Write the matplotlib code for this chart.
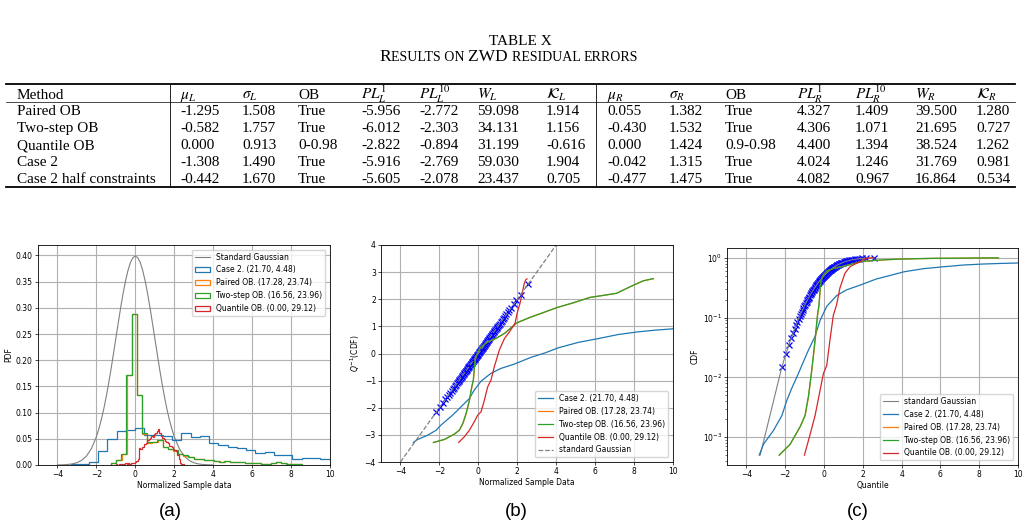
import matplotlib
matplotlib.use("Agg")
import matplotlib.pyplot as plt
import numpy as np
from matplotlib.lines import Line2D
from matplotlib.offsetbox import TextArea, HPacker, AnnotationBbox

W, H = 1030, 529

# ---------------- table data ----------------
methods = ["Paired OB", "Two-step OB", "Quantile OB", "Case 2", "Case 2 half constraints"]
header = ["Method", r"$\mu_L$", r"$\sigma_L$", "OB", r"$PL_L^1$", r"$PL_L^{10}$", r"$W_L$",
          r"$\mathcal{K}_L$", r"$\mu_R$", r"$\sigma_R$", "OB", r"$PL_R^1$", r"$PL_R^{10}$",
          r"$W_R$", r"$\mathcal{K}_R$"]
left_vals = [
    ["-1.295", "1.508", "True", "-5.956", "-2.772", "59.098", "1.914"],
    ["-0.582", "1.757", "True", "-6.012", "-2.303", "34.131", "1.156"],
    ["0.000", "0.913", "0-0.98", "-2.822", "-0.894", "31.199", "-0.616"],
    ["-1.308", "1.490", "True", "-5.916", "-2.769", "59.030", "1.904"],
    ["-0.442", "1.670", "True", "-5.605", "-2.078", "23.437", "0.705"],
]
right_vals = [
    ["0.055", "1.382", "True", "4.327", "1.409", "39.500", "1.280"],
    ["-0.430", "1.532", "True", "4.306", "1.071", "21.695", "0.727"],
    ["0.000", "1.424", "0.9-0.98", "4.400", "1.394", "38.524", "1.262"],
    ["-0.042", "1.315", "True", "4.024", "1.246", "31.769", "0.981"],
    ["-0.477", "1.475", "True", "4.082", "0.967", "16.864", "0.534"],
]

# ---------------- (a) histogram data ----------------
gauss_x = [-4.0, -3.75, -3.5, -3.25, -3.0, -2.75, -2.5, -2.25,
           -2.0, -1.875, -1.75, -1.625, -1.5, -1.375, -1.25, -1.125, -1.0, -0.875, -0.75,
           -0.625, -0.5, -0.375, -0.25, -0.125, 0.0, 0.125, 0.25, 0.375, 0.5, 0.625, 0.75,
           0.875, 1.0, 1.125, 1.25, 1.375, 1.5, 1.625, 1.75, 1.875, 2.0,
           2.25, 2.5, 2.75, 3.0, 3.25, 3.5, 3.75, 4.0]
gauss_pdf = [0.0001, 0.0004, 0.0009, 0.0020, 0.0044, 0.0091, 0.0175, 0.0317,
             0.0540, 0.0689, 0.0863, 0.1064, 0.1295, 0.1551, 0.1826, 0.2121, 0.2420, 0.2719,
             0.3011, 0.3282, 0.3521, 0.3719, 0.3867, 0.3958, 0.3989, 0.3958, 0.3867, 0.3719,
             0.3521, 0.3282, 0.3011, 0.2719, 0.2420, 0.2121, 0.1826, 0.1551, 0.1295, 0.1064,
             0.0863, 0.0689, 0.0540,
             0.0317, 0.0175, 0.0091, 0.0044, 0.0020, 0.0009, 0.0004, 0.0001]

case2_lo, case2_w = -3.33, 0.475
case2_hist = [0.001, 0.002, 0.006, 0.026, 0.049, 0.064, 0.066, 0.070, 0.057, 0.057, 0.055,
              0.048, 0.061, 0.053, 0.055, 0.042, 0.039, 0.035, 0.033, 0.029, 0.022, 0.025,
              0.020, 0.020, 0.011, 0.013, 0.013, 0.011, 0.012]

paired_lo, paired_w = -1.24, 0.265
paired_hist = [0.003, 0.010, 0.021, 0.172, 0.288, 0.134, 0.060, 0.042, 0.043, 0.048, 0.035,
               0.031, 0.027, 0.021, 0.018, 0.015, 0.012, 0.011, 0.009, 0.009, 0.007, 0.006,
               0.007, 0.006, 0.005, 0.005, 0.004, 0.003, 0.003, 0.002, 0.002, 0.003, 0.005,
               0.003, 0.002, 0.002, 0.001]

twostep_lo, twostep_w = -1.25, 0.265
twostep_hist = [0.003, 0.010, 0.021, 0.172, 0.288, 0.134, 0.061, 0.043, 0.043, 0.048, 0.035,
                0.031, 0.028, 0.021, 0.019, 0.015, 0.012, 0.011, 0.009, 0.009, 0.007, 0.006,
                0.007, 0.006, 0.005, 0.005, 0.004, 0.003, 0.003, 0.002, 0.002, 0.003, 0.005,
                0.003, 0.002, 0.002, 0.001]

quant_lo, quant_w = -1.0, 0.07
quant_hist = [0.001, 0.0, 0.002, 0.001, 0.002, 0.001, 0.002, 0.003, 0.002, 0.003, 0.002,
              0.004, 0.003, 0.004, 0.006, 0.008, 0.012, 0.032, 0.031, 0.035, 0.034, 0.040,
              0.042, 0.048, 0.050, 0.052, 0.055, 0.054, 0.060, 0.062, 0.065, 0.068, 0.062,
              0.055, 0.052, 0.050, 0.046, 0.044, 0.042, 0.037, 0.036, 0.035, 0.030, 0.028,
              0.026, 0.020, 0.012, 0.004, 0.002, 0.001]

# ---------------- (b)/(c) curves ----------------
case2_x = [-3.34, -3.12, -2.60, -2.17, -1.92, -1.66, -1.32, -1.06, -0.80, -0.46, -0.21, 0.14,
           0.65, 1.16, 1.85, 2.71, 3.42, 4.11, 5.14, 6.16, 7.19, 8.22, 9.08, 10.0, 11.0]
case2_q = [-3.28, -3.17, -3.01, -2.83, -2.64, -2.48, -2.27, -2.09, -1.90, -1.66, -1.35, -1.02,
           -0.73, -0.55, -0.39, -0.14, 0.02, 0.21, 0.41, 0.55, 0.70, 0.80, 0.86, 0.91, 0.95]
case2_cdf = [0.0005, 0.00076, 0.0013, 0.0023, 0.0041, 0.0066, 0.0116, 0.0183, 0.0287, 0.0485,
             0.0885, 0.154, 0.233, 0.291, 0.348, 0.444, 0.508, 0.583, 0.659, 0.709, 0.758,
             0.788, 0.805, 0.819, 0.829]

twostep_x = [-2.31, -1.75, -1.23, -0.98, -0.80, -0.63, -0.46, -0.34, -0.26, -0.17, -0.03, 0.14,
             0.48, 0.91, 1.34, 1.97, 2.65, 3.30, 4.02, 4.88, 5.74, 6.40, 7.10, 7.79, 8.47, 8.99]
twostep_q = [-3.28, -3.17, -2.97, -2.83, -2.58, -2.21, -1.72, -1.23, -0.98, -0.24, 0.06, 0.25,
             0.43, 0.56, 0.74, 1.13, 1.33, 1.50, 1.69, 1.87, 2.07, 2.14, 2.22, 2.46, 2.68, 2.76]
twostep_cdf = [0.0005, 0.00076, 0.0015, 0.0023, 0.0049, 0.0136, 0.0427, 0.109, 0.164, 0.405,
               0.524, 0.599, 0.666, 0.712, 0.770, 0.871, 0.908, 0.933, 0.954, 0.969, 0.981,
               0.984, 0.987, 0.993, 0.996, 0.997]

paired_x = [-2.30, -1.74, -1.22, -0.97, -0.79, -0.62, -0.45, -0.33, -0.25, -0.16, -0.02, 0.15,
            0.49, 0.92, 1.35, 1.98, 2.66, 3.31, 4.03, 4.89, 5.75, 6.41, 7.11, 7.80, 8.48, 9.00]
paired_q = twostep_q[:]
paired_cdf = twostep_cdf[:]

quant_x = [-1.01, -0.72, -0.46, -0.21, -0.03, 0.14, 0.31, 0.48, 0.65, 0.82, 1.08, 1.34, 1.60,
           1.88, 2.00, 2.14, 2.25, 2.36, 2.44, 2.50]
quant_q = [-3.28, -3.07, -2.83, -2.52, -2.27, -2.15, -1.72, -1.23, -0.98, -0.49, 0.13, 0.55,
           0.80, 1.10, 1.50, 1.85, 2.20, 2.59, 2.72, 2.75]
quant_cdf = [0.0005, 0.0011, 0.0023, 0.0059, 0.0116, 0.0158, 0.0427, 0.109, 0.164, 0.312,
             0.552, 0.709, 0.788, 0.864, 0.933, 0.968, 0.986, 0.995, 0.9967, 0.997]

# standard gaussian reference
gauss_line = [-4.0, 4.0]
gauss_tail_x, gauss_tail_p = -3.29, 0.0005

# gaussian sample markers (quantile, cdf)
marker_q = [-2.170, -1.960, -1.812, -1.695, -1.598, -1.514, -1.440, -1.372, -1.311, -1.254,
            -1.200, -1.150, -1.103, -1.058, -1.015, -0.974, -0.935, -0.896, -0.860, -0.824,
            -0.789, -0.755, -0.722, -0.690, -0.659, -0.628, -0.598, -0.568, -0.539, -0.510,
            -0.482, -0.454, -0.426, -0.399, -0.372, -0.345, -0.319, -0.292, -0.266, -0.240,
            -0.215, -0.189, -0.164, -0.138, -0.113, -0.088, -0.063, -0.038, -0.013,
            0.013, 0.038, 0.063, 0.088, 0.113, 0.138, 0.164, 0.189, 0.215, 0.240,
            0.266, 0.292, 0.319, 0.345, 0.372, 0.399, 0.426, 0.454, 0.482, 0.510,
            0.539, 0.568, 0.598, 0.628, 0.659, 0.690, 0.722, 0.755, 0.789, 0.824,
            0.860, 0.896, 0.935, 0.974, 1.015, 1.058, 1.103, 1.150, 1.200, 1.254,
            1.311, 1.372, 1.440, 1.514, 1.598, 1.695, 1.812, 1.960, 2.170, 2.576]
marker_p = [0.015, 0.025, 0.035, 0.045, 0.055, 0.065, 0.075, 0.085, 0.095, 0.105,
            0.115, 0.125, 0.135, 0.145, 0.155, 0.165, 0.175, 0.185, 0.195, 0.205,
            0.215, 0.225, 0.235, 0.245, 0.255, 0.265, 0.275, 0.285, 0.295, 0.305,
            0.315, 0.325, 0.335, 0.345, 0.355, 0.365, 0.375, 0.385, 0.395, 0.405,
            0.415, 0.425, 0.435, 0.445, 0.455, 0.465, 0.475, 0.485, 0.495,
            0.505, 0.515, 0.525, 0.535, 0.545, 0.555, 0.565, 0.575, 0.585, 0.595,
            0.605, 0.615, 0.625, 0.635, 0.645, 0.655, 0.665, 0.675, 0.685, 0.695,
            0.705, 0.715, 0.725, 0.735, 0.745, 0.755, 0.765, 0.775, 0.785, 0.795,
            0.805, 0.815, 0.825, 0.835, 0.845, 0.855, 0.865, 0.875, 0.885, 0.895,
            0.905, 0.915, 0.925, 0.935, 0.945, 0.955, 0.965, 0.975, 0.985, 0.995]

lab_case2 = "Case 2. (21.70, 4.48)"
lab_paired = "Paired OB. (17.28, 23.74)"
lab_twostep = "Two-step OB. (16.56, 23.96)"
lab_quant = "Quantile OB. (0.00, 29.12)"

FS = 5.5
plt.rcParams['font.family'] = 'DejaVu Sans'
plt.rcParams['mathtext.fontset'] = 'dejavusans'
plt.rcParams['axes.linewidth'] = 0.6
plt.rcParams['grid.color'] = '#b0b0b0'
plt.rcParams['grid.linewidth'] = 0.8
plt.rcParams['lines.linewidth'] = 0.9
plt.rcParams['xtick.major.size'] = 2.2
plt.rcParams['ytick.major.size'] = 2.2
plt.rcParams['xtick.major.width'] = 0.5
plt.rcParams['ytick.major.width'] = 0.5
plt.rcParams['ytick.minor.size'] = 1.3
plt.rcParams['ytick.minor.width'] = 0.4
plt.rcParams['xtick.major.pad'] = 1.5
plt.rcParams['ytick.major.pad'] = 1.5


def fx(x):
    return x / W


def fy(y):
    return 1 - y / H


fig = plt.figure(figsize=(W / 100, H / 100), dpi=100)

# ---------------- table ----------------
serif = 'Liberation Serif'
fig.text(fx(520), fy(45), "TABLE X", ha='center', va='baseline', family=serif, fontsize=11)

big, small = 12.5, 10
pieces = [("R", big), ("ESULTS ON ", small), ("ZWD ", big), ("RESIDUAL ", small), ("ERRORS", small)]
boxes = [TextArea(t, textprops=dict(family=serif, fontsize=s)) for t, s in pieces]
pack = HPacker(children=boxes, align="baseline", pad=0, sep=0)
ab = AnnotationBbox(pack, (fx(509), fy(57)), xycoords='figure fraction', frameon=False,
                    box_alignment=(0.5, 0.5))
fig.add_artist(ab)

col_x = [17, 180, 242, 298, 361, 419, 477, 546, 607, 669, 725, 797, 855, 915, 976]
row_y = [115, 132, 149, 166, 183]
head_y = 99

for x, h in zip(col_x, header):
    fig.text(fx(x), fy(head_y), h, ha='left', va='baseline', family=serif, fontsize=11,
             math_fontfamily='stix')
for r, m in enumerate(methods):
    cells = [m] + left_vals[r] + right_vals[r]
    for x, c in zip(col_x, cells):
        fig.text(fx(x), fy(row_y[r]), c, ha='left', va='baseline', family=serif, fontsize=11)

tx0, tx1 = 6, 1015
fig.add_artist(Line2D([fx(tx0), fx(tx1)], [fy(83.5), fy(83.5)], color='k', lw=1.3))
fig.add_artist(Line2D([fx(tx0), fx(tx1)], [fy(102), fy(102)], color='k', lw=0.5))
fig.add_artist(Line2D([fx(tx0), fx(tx1)], [fy(187), fy(187)], color='k', lw=1.3))
for vx in [170, 596]:
    fig.add_artist(Line2D([fx(vx), fx(vx)], [fy(83.5), fy(187)], color='k', lw=0.6))

# ---------------- axes ----------------
ax1 = fig.add_axes([fx(38), fy(465), 292 / W, 220 / H])
ax2 = fig.add_axes([fx(381), fy(462), 292 / W, 217 / H])
ax3 = fig.add_axes([fx(727), fy(465), 291 / W, 217 / H])


def step_hist(ax, lo, width, heights, color, label):
    edges = lo + width * np.arange(len(heights) + 1)
    centers = 0.5 * (edges[:-1] + edges[1:])
    ax.hist(centers, bins=edges, weights=heights, histtype='step', color=color, label=label,
            lw=0.9)


# (a)
ax1.plot(gauss_x, gauss_pdf, color='gray', lw=0.8, label="Standard Gaussian")
step_hist(ax1, case2_lo, case2_w, case2_hist, 'tab:blue', lab_case2)
step_hist(ax1, paired_lo, paired_w, paired_hist, 'tab:orange', lab_paired)
step_hist(ax1, twostep_lo, twostep_w, twostep_hist, 'tab:green', lab_twostep)
step_hist(ax1, quant_lo, quant_w, quant_hist, 'tab:red', lab_quant)
ax1.set_xlim(-5, 10)
ax1.set_ylim(0, 0.42)
ax1.set_yticks(np.arange(0, 0.41, 0.05))
ax1.set_xlabel("Normalized Sample data", fontsize=FS, labelpad=1.5)
ax1.set_ylabel("PDF", fontsize=FS, labelpad=2)
ax1.legend(loc='upper right', fontsize=FS, borderaxespad=0.6)

# (b)
ax2.plot(marker_q, marker_q, 'x', color='blue', ms=5, mew=0.9)
ax2.plot(case2_x, case2_q, color='tab:blue', label=lab_case2)
ax2.plot(paired_x, paired_q, color='tab:orange', label=lab_paired)
ax2.plot(twostep_x, twostep_q, color='tab:green', label=lab_twostep)
ax2.plot(quant_x, quant_q, color='tab:red', label=lab_quant)
ax2.plot(gauss_line, gauss_line, '--', color='gray', label="standard Gaussian")
ax2.set_xlim(-5, 10)
ax2.set_ylim(-4, 4)
ax2.set_xlabel("Normalized Sample Data", fontsize=FS, labelpad=1.5)
ax2.set_ylabel(r"$Q^{-1}$(CDF)", fontsize=FS, labelpad=2)
ax2.legend(loc='lower right', fontsize=FS, borderaxespad=0.6)

# (c)
ax3.plot(marker_q, marker_p, 'x', color='blue', ms=5, mew=0.9)
ax3.plot([gauss_tail_x] + marker_q, [gauss_tail_p] + marker_p, color='gray', lw=0.8,
         label="standard Gaussian")
ax3.plot(case2_x, case2_cdf, color='tab:blue', label=lab_case2)
ax3.plot(paired_x, paired_cdf, color='tab:orange', label=lab_paired)
ax3.plot(twostep_x, twostep_cdf, color='tab:green', label=lab_twostep)
ax3.plot(quant_x, quant_cdf, color='tab:red', label=lab_quant)
ax3.set_yscale('log')
ax3.set_xlim(-5, 10)
ax3.set_ylim(3.42e-4, 1.46)
ax3.set_xlabel("Quantile", fontsize=FS, labelpad=1.5)
ax3.set_ylabel("CDF", fontsize=FS, labelpad=2)
ax3.legend(loc='lower right', fontsize=FS, borderaxespad=0.6)

for ax in (ax1, ax2, ax3):
    ax.grid(True, which='major')
    ax.set_axisbelow(True)
    ax.set_xticks([-4, -2, 0, 2, 4, 6, 8, 10])
    ax.tick_params(labelsize=FS)

for x, t in [(170, "(a)"), (516, "(b)"), (858, "(c)")]:
    fig.text(fx(x), fy(511), t, ha='center', va='center', family='Liberation Sans', fontsize=13.5)

fig.savefig("out.png", dpi=100)
